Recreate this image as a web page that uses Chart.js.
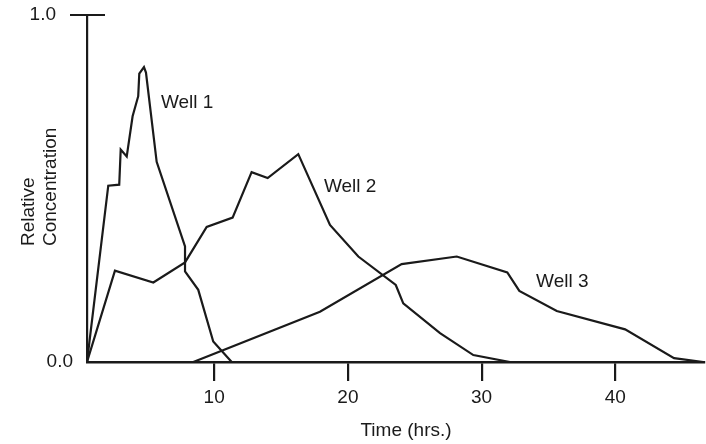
<!DOCTYPE html>
<html>
<head>
<meta charset="utf-8">
<script src="https://cdn.jsdelivr.net/npm/chart.js@4/dist/chart.umd.min.js"></script>
<style>
    html, body { margin: 0; padding: 0; background: #fff; }
    #wrap { width: 706px; height: 444px; }
</style>
</head>
<body>
<div id="wrap"><canvas id="chart" width="706" height="444"></canvas></div>
<script>
// ─── Data ─────────────────────────────────────────────

const well1Time = [0.49, 2.08, 2.90, 3.01, 3.46, 3.90, 4.32, 4.40, 4.75, 4.90, 5.70, 7.82, 7.82, 8.81, 9.93, 11.31];
const well1Conc = [0.00, 0.508, 0.511, 0.612, 0.592, 0.708, 0.766, 0.831, 0.850, 0.834, 0.577, 0.333, 0.261, 0.208, 0.059, 0.00];

const well2Time = [0.49, 2.58, 5.45, 7.82, 9.44, 11.38, 12.80, 14.00, 16.29, 18.66, 20.78, 23.58, 24.14, 26.89, 29.38, 32.12];
const well2Conc = [0.00, 0.263, 0.229, 0.287, 0.389, 0.416, 0.547, 0.530, 0.599, 0.395, 0.304, 0.222, 0.169, 0.083, 0.020, 0.00];

const well3Time = [8.44, 17.91, 24.02, 28.14, 31.92, 32.82, 35.62, 40.73, 44.39, 46.58];
const well3Conc = [0.00, 0.145, 0.282, 0.304, 0.258, 0.205, 0.147, 0.094, 0.011, 0.00];

const xTicks = [10, 20, 30, 40];
const yTicks = [0, 1];
const yTickLabels = ['0.0', '1.0'];

const wellNames = ['Well 1', 'Well 2', 'Well 3'];
const labelTime = [6.02, 18.21, 34.07];
const labelConc = [0.747, 0.505, 0.231];

// ─── Helpers ──────────────────────────────────────────

const INK = '#1a1a1a';
const FONT = "'Liberation Sans', Arial, Helvetica, sans-serif";
const FONT_SIZE = 19;

function toPoints(xs, ys) {
    return xs.map((x, i) => ({ x, y: ys[i] }));
}

function lineDataset(label, xs, ys) {
    return {
        label,
        data: toPoints(xs, ys),
        borderColor: INK,
        borderWidth: 2.2,
        pointRadius: 0,
        tension: 0,
        fill: false,
    };
}

// ─── Extra text + ticks drawn on top of the scales ────

const decorations = {
    id: 'decorations',
    afterDraw(chart) {
        const { ctx, scales: { x, y } } = chart;
        ctx.save();
        ctx.fillStyle = INK;
        ctx.strokeStyle = INK;
        ctx.font = `${FONT_SIZE}px ${FONT}`;

        // crossing tick at the top of the y axis
        const yTop = y.getPixelForValue(1);
        ctx.lineWidth = 2.2;
        ctx.beginPath();
        ctx.moveTo(x.left - 17, yTop);
        ctx.lineTo(x.left + 18, yTop);
        ctx.stroke();

        // y tick labels
        ctx.textAlign = 'right';
        ctx.textBaseline = 'middle';
        ctx.fillText(yTickLabels[1], x.left - 31, y.getPixelForValue(yTicks[1]));
        ctx.fillText(yTickLabels[0], x.left - 14, y.getPixelForValue(yTicks[0]));

        // well labels
        ctx.textAlign = 'left';
        wellNames.forEach((name, i) => {
            ctx.fillText(name, x.getPixelForValue(labelTime[i]), y.getPixelForValue(labelConc[i]));
        });

        // x title
        ctx.textAlign = 'center';
        ctx.fillText('Time (hrs.)', 406, 431);

        // y title, two lines, rotated
        ctx.textAlign = 'left';
        [['Relative', 28.5], ['Concentration', 50.5]].forEach(([txt, cx]) => {
            ctx.save();
            ctx.translate(cx, 246);
            ctx.rotate(-Math.PI / 2);
            ctx.fillText(txt, 0, 0);
            ctx.restore();
        });

        ctx.restore();
    },
};

// ─── Chart ────────────────────────────────────────────

new Chart(document.getElementById('chart').getContext('2d'), {
    type: 'line',
    data: {
        datasets: [
            lineDataset(wellNames[0], well1Time, well1Conc),
            lineDataset(wellNames[1], well2Time, well2Conc),
            lineDataset(wellNames[2], well3Time, well3Conc),
        ],
    },
    options: {
        responsive: false,
        animation: false,
        layout: { padding: { top: 15, right: 2, left: 0, bottom: 0 } },
        plugins: {
            legend: { display: false },
            tooltip: { enabled: false },
        },
        scales: {
            x: {
                type: 'linear',
                min: 0.49,
                max: 46.63,
                afterBuildTicks: s => { s.ticks = xTicks.map(value => ({ value })); },
                afterFit: s => { s.height = 82; },
                grid: {
                    drawOnChartArea: false,
                    drawTicks: true,
                    tickLength: 19,
                    lineWidth: 2.2,
                    color: INK,
                },
                border: { display: true, width: 2.4, color: INK },
                ticks: {
                    color: INK,
                    font: { family: FONT, size: FONT_SIZE },
                    padding: 5,
                    maxRotation: 0,
                    autoSkip: false,
                },
            },
            y: {
                type: 'linear',
                min: 0,
                max: 1,
                afterBuildTicks: s => { s.ticks = yTicks.map(value => ({ value })); },
                afterFit: s => { s.width = 87; },
                grid: { display: false },
                border: { display: true, width: 2.2, color: INK },
                ticks: { display: false },
            },
        },
    },
    plugins: [decorations],
});
</script>
</body>
</html>
